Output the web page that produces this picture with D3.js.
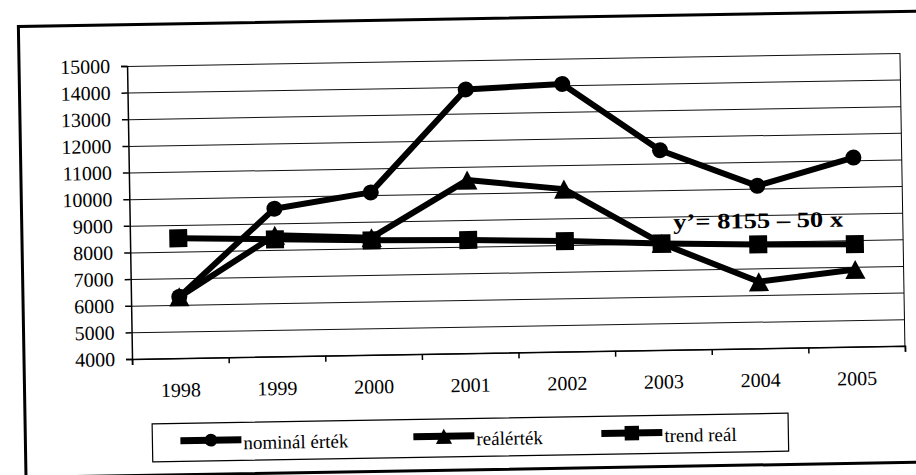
<!DOCTYPE html>
<html>
<head>
<meta charset="utf-8">
<script src="https://cdn.jsdelivr.net/npm/d3@7"></script>
<style>
  body { margin: 0; background: #fff; }
  svg { display: block; font-family: "Liberation Serif", "DejaVu Serif", serif; }
  .grid line { stroke: #111; stroke-width: 1; }
  .grid .domain { display: none; }
  .axis text { font-family: "Liberation Serif", serif; font-size: 20px; fill: #000; }
  .axis line, .axis path { stroke: #000; stroke-width: 1.5; }
  .series { fill: none; stroke: #000; stroke-width: 6; stroke-linejoin: round; }
  .legend text { font-size: 19px; fill: #000; }
</style>
</head>
<body>
<div id="chart"></div>
<script>
// Values (1998-2005)
const years = ["1998", "1999", "2000", "2001", "2002", "2003", "2004", "2005"];
const nominal = [6300, 9550, 10100, 13900, 14050, 11500, 10100, 11100];
const real = [6300, 8550, 8400, 10500, 10100, 8000, 6500, 6900];
const trend = [8500, 8400, 8300, 8250, 8150, 8000, 7900, 7850];
const yTickValues = [4000, 5000, 6000, 7000, 8000, 9000, 10000, 11000, 12000, 13000, 14000, 15000];
const legendLabels = ["nominál érték", "reálérték", "trend reál"];
const trendNote = "y’= 8155 – 50 x";

const width = 916;
const height = 475;
const margin = { top: 60.4, right: 13, bottom: 121.6, left: 130 };
const plotW = width - margin.left - margin.right;
const plotH = height - margin.top - margin.bottom;

const svg = d3.select("#chart")
  .append("svg")
  .attr("width", width)
  .attr("height", height);

svg.append("rect").attr("width", width).attr("height", height).attr("fill", "#fff");

// the paper copy sits a little crooked on the scanner
const page = svg.append("g").attr("transform", "rotate(-0.97 458 237)");

page.append("rect")
  .attr("x", 22).attr("y", 19)
  .attr("width", 910).attr("height", 451)
  .attr("fill", "none").attr("stroke", "#000").attr("stroke-width", 3);

const chart = page.append("g").attr("transform", `translate(${margin.left}, ${margin.top})`);

const x = d3.scaleBand().domain(years).range([0, plotW]);
const xEdge = d3.scaleLinear().domain([0, years.length]).range([0, plotW]);
const y = d3.scaleLinear().domain([4000, 15000]).range([plotH, 0]);

chart.append("g")
  .attr("class", "grid")
  .call(d3.axisLeft(y).tickValues(yTickValues).tickSize(-plotW).tickFormat(""));

chart.append("line")
  .attr("x1", plotW).attr("x2", plotW)
  .attr("y1", 0).attr("y2", plotH)
  .attr("stroke", "#000").attr("stroke-width", 1);

chart.append("g")
  .attr("class", "axis")
  .call(d3.axisLeft(y).tickValues(yTickValues).tickSize(6).tickPadding(11).tickFormat(d3.format("d")));

chart.append("g")
  .attr("class", "axis")
  .attr("transform", `translate(0, ${plotH})`)
  .call(d3.axisBottom(xEdge).tickValues(d3.range(0, years.length + 1)).tickSize(6).tickFormat(""));

const xLabels = chart.append("g")
  .attr("class", "axis")
  .attr("transform", `translate(0, ${plotH})`)
  .call(d3.axisBottom(x).tickSize(0));
xLabels.select(".domain").remove();
xLabels.selectAll("text").attr("y", 38.6).attr("dy", 0);

const cx = d => x(d.year) + x.bandwidth() / 2;

const line = d3.line()
  .x(cx)
  .y(d => y(d.value));

function markerPath(shape, s) {
  if (shape === "circle") return d3.symbol(d3.symbolCircle, Math.PI * s * s / 4)();
  if (shape === "square") return `M${-s / 2},${-s / 2}h${s}v${s}h${-s}Z`;
  return `M0,${-s / 2}L${s * 0.53},${s / 2}L${-s * 0.53},${s / 2}Z`;
}

const series = [
  { name: legendLabels[0], values: nominal, shape: "circle", size: 16 },
  { name: legendLabels[1], values: real, shape: "triangle", size: 19 },
  { name: legendLabels[2], values: trend, shape: "square", size: 18 }
];

series.forEach(s => {
  const pts = years.map((yr, i) => ({ year: yr, value: s.values[i] }));
  chart.append("path")
    .datum(pts)
    .attr("class", "series")
    .attr("d", line);
  chart.selectAll(null)
    .data(pts)
    .join("path")
    .attr("transform", d => `translate(${cx(d)}, ${y(d.value)})`)
    .attr("d", markerPath(s.shape, s.size))
    .attr("fill", "#000");
});

chart.append("text")
  .attr("x", x("2003") + x.bandwidth() / 2 + 12)
  .attr("y", y(8520))
  .attr("font-size", 22)
  .attr("font-weight", "bold")
  .attr("textLength", 170)
  .attr("lengthAdjust", "spacingAndGlyphs")
  .text(trendNote);

// legend
const legend = page.append("g").attr("class", "legend");
legend.append("rect")
  .attr("x", 149).attr("y", 418.7)
  .attr("width", 636).attr("height", 38)
  .attr("fill", "#fff").attr("stroke", "#000").attr("stroke-width", 1.2);

const legendX = [177, 410, 598];
series.forEach((s, i) => {
  const g = legend.append("g").attr("transform", `translate(${legendX[i]}, 436)`);
  g.append("line").attr("x1", 0).attr("x2", 61).attr("stroke", "#000").attr("stroke-width", 7);
  g.append("path")
    .attr("transform", "translate(30.5, 0)")
    .attr("d", markerPath(s.shape, s.size * 0.8))
    .attr("fill", "#000");
  g.append("text").attr("x", 63).attr("y", 9.5).text(s.name);
});
</script>
</body>
</html>
